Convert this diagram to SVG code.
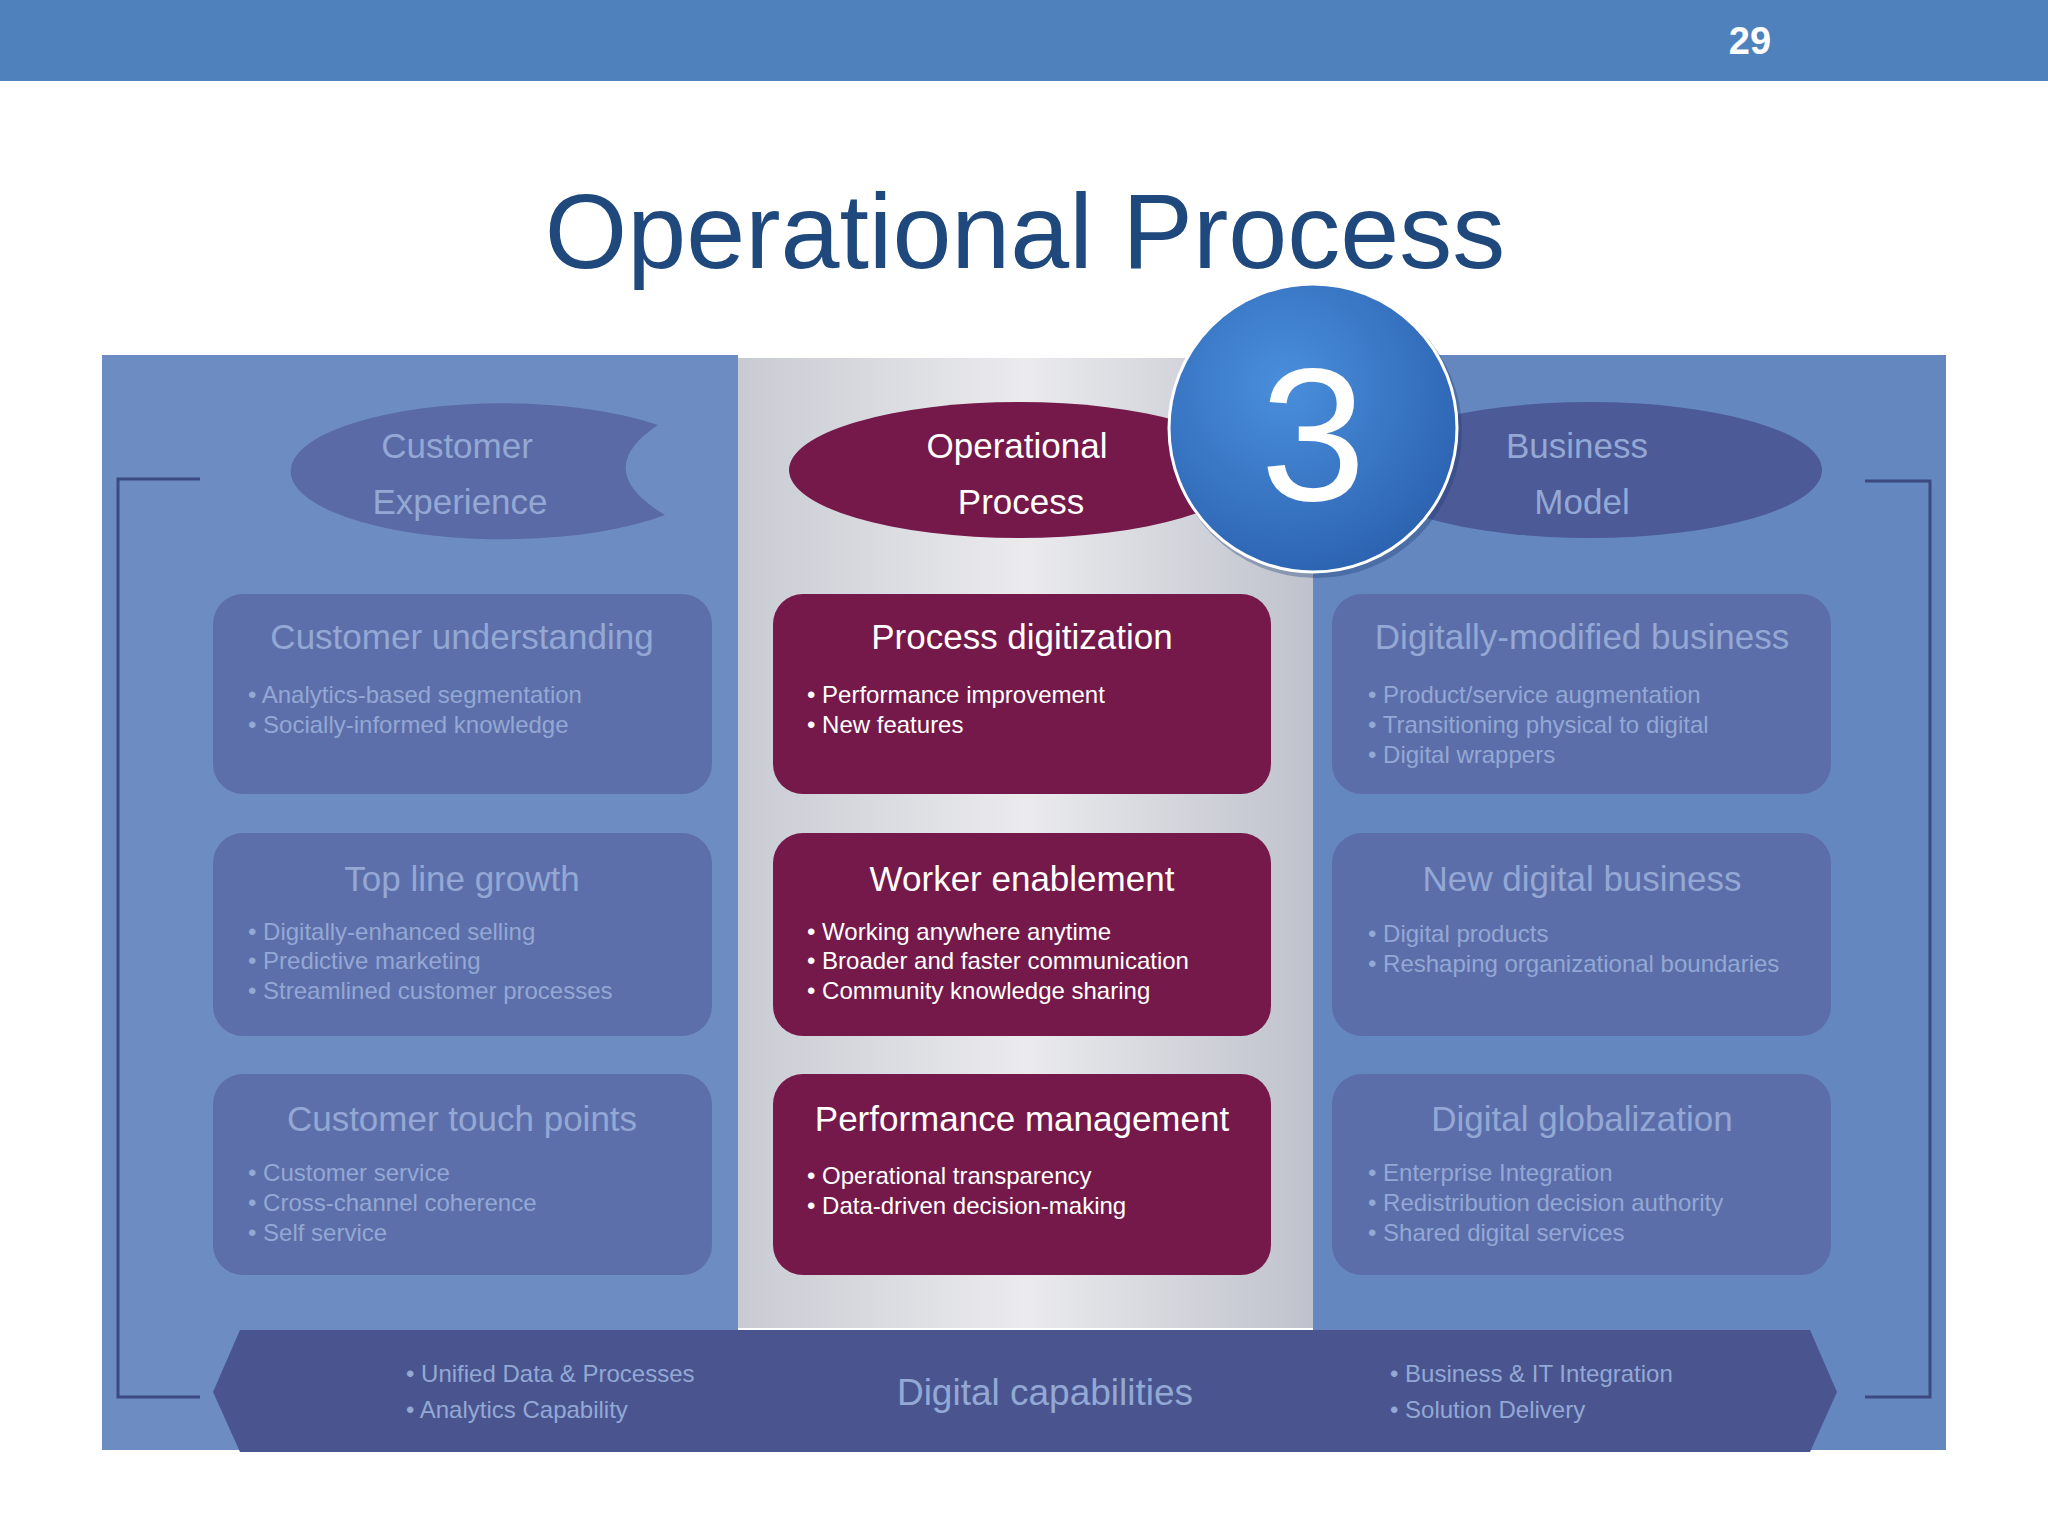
<svg xmlns="http://www.w3.org/2000/svg" width="2048" height="1536" viewBox="0 0 2048 1536">
<defs>
<linearGradient id="cg" x1="0" y1="0" x2="1" y2="0"><stop offset="0" stop-color="#c9cbd3"/><stop offset="0.5" stop-color="#ebebee"/><stop offset="1" stop-color="#bfc2cc"/></linearGradient>
<radialGradient id="bg3" cx="0.4" cy="0.35" r="0.7"><stop offset="0" stop-color="#4a8fdc"/><stop offset="1" stop-color="#2b62b0"/></radialGradient>
<style>
.f{font-family:"Liberation Sans",Arial,sans-serif}
.fadebox{fill:#5a6aa6;opacity:0.85}
.ft{fill:#93a8d4;font-size:35px;text-anchor:middle}
.fb{fill:#93a8d4;font-size:24px}
.mbox{fill:#74194a}
.mt{fill:#fff;font-size:35px;text-anchor:middle}
.mb{fill:#fff;font-size:24px}
.brk{fill:none;stroke:#3b4a80;stroke-width:3}
</style>
</defs>
<rect width="2048" height="1536" fill="#fff"/>
<rect width="2048" height="81" fill="#4f81bd"/>
<text class="f" x="1750" y="54" fill="#fff" font-size="38" font-weight="bold" text-anchor="middle">29</text>
<text class="f" x="1025" y="268" fill="#1f497d" font-size="106" text-anchor="middle">Operational Process</text>

<rect x="102" y="355" width="636" height="1095" fill="#6d8dc2"/>
<rect x="738" y="358" width="575" height="970" fill="url(#cg)"/>
<rect x="1313" y="355" width="633" height="1095" fill="#6587bf"/>
<polyline class="brk" points="200,479 118,479 118,1397 200,1397"/>
<polyline class="brk" points="1865,481 1930,481 1930,1397 1865,1397"/>

<g id="ellipse-customer-experience">
<path d="M658,425 A212,68 0 1 0 665,515 Q590,470 658,425 Z" fill="#5a6aa6"/>
<text class="f" x="457" y="458" fill="#93a8d4" font-size="35" text-anchor="middle">Customer</text>
<text class="f" x="460" y="514" fill="#93a8d4" font-size="35" text-anchor="middle">Experience</text>
</g>
<g id="ellipse-operational-process">
<ellipse cx="1019" cy="470" rx="230" ry="68" fill="#74194a"/>
<text class="f" x="1017" y="458" fill="#fff" font-size="35" text-anchor="middle">Operational</text>
<text class="f" x="1021" y="514" fill="#fff" font-size="35" text-anchor="middle">Process</text>
</g>
<g id="ellipse-business-model">
<ellipse cx="1590" cy="470" rx="232" ry="68" fill="#4c5a98"/>
<text class="f" x="1577" y="458" fill="#93a8d4" font-size="35" text-anchor="middle">Business</text>
<text class="f" x="1582" y="514" fill="#93a8d4" font-size="35" text-anchor="middle">Model</text>
</g>
<g id="circle-3">
<circle cx="1316" cy="432" r="146" fill="#1d3e78" opacity="0.35"/>
<circle cx="1313" cy="428" r="144" fill="url(#bg3)" stroke="#ffffff" stroke-width="3"/>
<text class="f" x="1313" y="500" fill="#fff" font-size="190" text-anchor="middle">3</text>
</g>

<g id="box-customer-understanding" class="f">
<rect class="fadebox" x="213" y="594" width="499" height="200" rx="30"/>
<text class="ft" x="462" y="649">Customer understanding</text>
<text class="fb" x="248" y="703">• Analytics-based segmentation</text>
<text class="fb" x="248" y="733">• Socially-informed knowledge</text>
</g>
<g id="box-top-line-growth" class="f">
<rect class="fadebox" x="213" y="833" width="499" height="203" rx="30"/>
<text class="ft" x="462" y="891">Top line growth</text>
<text class="fb" x="248" y="940">• Digitally-enhanced selling</text>
<text class="fb" x="248" y="969">• Predictive marketing</text>
<text class="fb" x="248" y="999">• Streamlined customer processes</text>
</g>
<g id="box-customer-touch-points" class="f">
<rect class="fadebox" x="213" y="1074" width="499" height="201" rx="30"/>
<text class="ft" x="462" y="1131">Customer touch points</text>
<text class="fb" x="248" y="1181">• Customer service</text>
<text class="fb" x="248" y="1211">• Cross-channel coherence</text>
<text class="fb" x="248" y="1241">• Self service</text>
</g>

<g id="box-process-digitization" class="f">
<rect class="mbox" x="773" y="594" width="498" height="200" rx="30"/>
<text class="mt" x="1022" y="649">Process digitization</text>
<text class="mb" x="807" y="703">• Performance improvement</text>
<text class="mb" x="807" y="733">• New features</text>
</g>
<g id="box-worker-enablement" class="f">
<rect class="mbox" x="773" y="833" width="498" height="203" rx="30"/>
<text class="mt" x="1022" y="891">Worker enablement</text>
<text class="mb" x="807" y="940">• Working anywhere anytime</text>
<text class="mb" x="807" y="969">• Broader and faster communication</text>
<text class="mb" x="807" y="999">• Community knowledge sharing</text>
</g>
<g id="box-performance-management" class="f">
<rect class="mbox" x="773" y="1074" width="498" height="201" rx="30"/>
<text class="mt" x="1022" y="1131">Performance management</text>
<text class="mb" x="807" y="1184">• Operational transparency</text>
<text class="mb" x="807" y="1214">• Data-driven decision-making</text>
</g>

<g id="box-digitally-modified-business" class="f">
<rect class="fadebox" x="1332" y="594" width="499" height="200" rx="30"/>
<text class="ft" x="1582" y="649">Digitally-modified business</text>
<text class="fb" x="1368" y="703">• Product/service augmentation</text>
<text class="fb" x="1368" y="733">• Transitioning physical to digital</text>
<text class="fb" x="1368" y="763">• Digital wrappers</text>
</g>
<g id="box-new-digital-business" class="f">
<rect class="fadebox" x="1332" y="833" width="499" height="203" rx="30"/>
<text class="ft" x="1582" y="891">New digital business</text>
<text class="fb" x="1368" y="942">• Digital products</text>
<text class="fb" x="1368" y="972">• Reshaping organizational boundaries</text>
</g>
<g id="box-digital-globalization" class="f">
<rect class="fadebox" x="1332" y="1074" width="499" height="201" rx="30"/>
<text class="ft" x="1582" y="1131">Digital globalization</text>
<text class="fb" x="1368" y="1181">• Enterprise Integration</text>
<text class="fb" x="1368" y="1211">• Redistribution decision authority</text>
<text class="fb" x="1368" y="1241">• Shared digital services</text>
</g>

<g id="band-digital-capabilities" class="f">
<polygon points="240,1330 1810,1330 1837,1392 1810,1452 240,1452 213,1392" fill="#4a5590"/>
<text x="406" y="1382" fill="#93a8d4" font-size="24">•  Unified Data &amp; Processes</text>
<text x="406" y="1418" fill="#93a8d4" font-size="24">•  Analytics Capability</text>
<text x="1045" y="1405" fill="#93a8d4" font-size="37" text-anchor="middle">Digital capabilities</text>
<text x="1390" y="1382" fill="#93a8d4" font-size="24">•  Business &amp; IT Integration</text>
<text x="1390" y="1418" fill="#93a8d4" font-size="24">•  Solution Delivery</text>
</g>
<g id="connectors"/>
</svg>
